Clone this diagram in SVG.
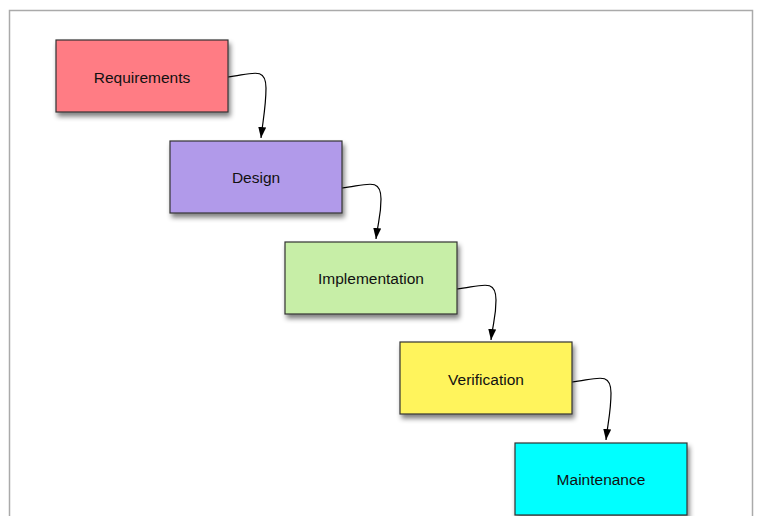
<svg xmlns="http://www.w3.org/2000/svg" width="758" height="516" viewBox="0 0 758 516">
<defs>
<filter id="sh" x="-10%" y="-10%" width="130%" height="140%">
<feGaussianBlur in="SourceAlpha" stdDeviation="2.5"/>
<feOffset dx="2" dy="4" result="b"/>
<feComponentTransfer><feFuncA type="linear" slope="0.5"/></feComponentTransfer>
<feMerge><feMergeNode/><feMergeNode in="SourceGraphic"/></feMerge>
</filter>
<marker id="ah" markerWidth="12" markerHeight="12" refX="11" refY="5" orient="auto" markerUnits="userSpaceOnUse">
<path d="M0,1 L11,5 L0,9 Z" fill="#000"/>
</marker>
</defs>
<style>
.box{stroke:#333;stroke-width:1.2;filter:url(#sh)}
.lbl{font-family:"Liberation Sans",Arial,sans-serif;font-size:15.5px;fill:#111;text-anchor:middle;dominant-baseline:central}
.con{fill:none;stroke:#000;stroke-width:1.2;marker-end:url(#ah)}
</style>
<rect width="758" height="516" fill="#fff"/>
<path d="M9.5,520 V10.5 H752.5 V520" fill="none" stroke="#aaa" stroke-width="1.5"/>
<g id="connectors">
<path class="con" d="M228,77 C252,74 266,66 266,88 C266,106 263,120 261,138"/>
<path class="con" d="M342,188 C367,185 381,177 381,199 C381,217 378,221 376,239"/>
<path class="con" d="M457,289 C482,286 496,278 496,300 C496,318 493,322 491,340"/>
<path class="con" d="M572,382 C597,379 611,371 611,393 C611,411 608,422 606,440"/>
</g>
<g id="requirements">
<rect class="box" x="56" y="40" width="172" height="72" fill="#ff7b84"/>
<text class="lbl" x="142" y="77">Requirements</text>
</g>
<g id="design">
<rect class="box" x="170" y="141" width="172" height="72" fill="#b19aea"/>
<text class="lbl" x="256" y="177">Design</text>
</g>
<g id="implementation">
<rect class="box" x="285" y="242" width="172" height="72" fill="#c7eea7"/>
<text class="lbl" x="371" y="278">Implementation</text>
</g>
<g id="verification">
<rect class="box" x="400" y="342" width="172" height="72" fill="#fff45c"/>
<text class="lbl" x="486" y="379">Verification</text>
</g>
<g id="maintenance">
<rect class="box" x="515" y="443" width="172" height="72" fill="#00ffff"/>
<text class="lbl" x="601" y="479">Maintenance</text>
</g>
</svg>
